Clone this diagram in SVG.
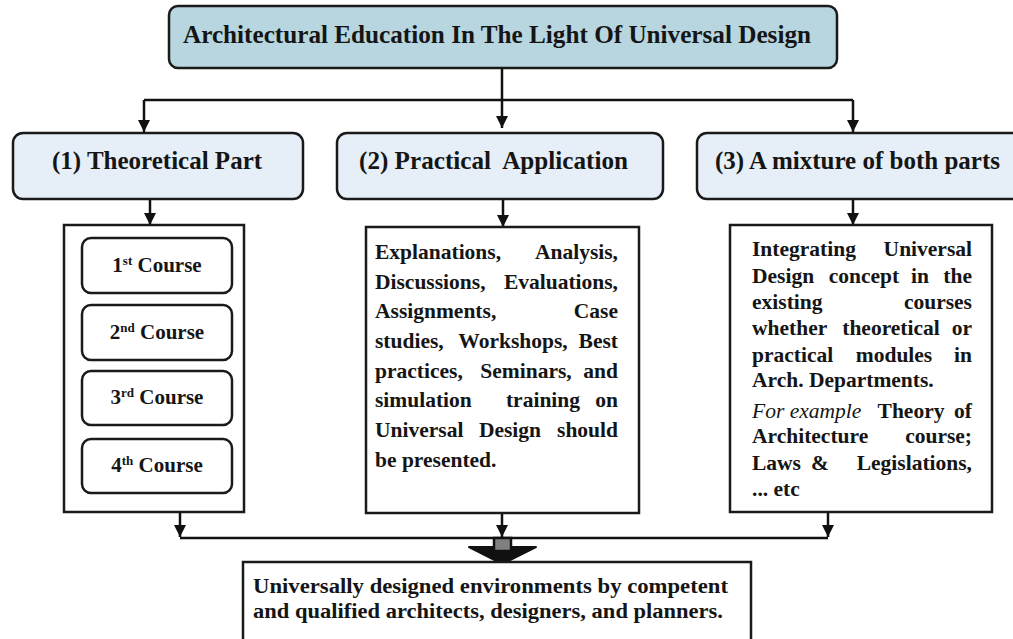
<svg xmlns="http://www.w3.org/2000/svg" width="1013" height="639" viewBox="0 0 1013 639">
<style>
  .t{font-family:'Liberation Serif','DejaVu Serif',serif;font-weight:700;fill:#151515}
  .it{font-style:italic;font-weight:400}
  .box{stroke:#1a1a1a;stroke-width:2.5}
  .con{fill:none;stroke:#111;stroke-width:2.5}
  .e{text-anchor:end}
  .m{text-anchor:middle}
</style>
<defs>
  <marker id="ah" viewBox="0 0 10 10" refX="10" refY="5" markerWidth="5" markerHeight="5" markerUnits="strokeWidth" orient="auto">
    <path d="M0,0 L10,5 L0,10 Z" fill="#111"/>
  </marker>
</defs>
<rect width="1013" height="639" fill="#fff"/>

<g id="connectors">
  <path class="con" d="M502,68 V128" marker-end="url(#ah)"/>
  <path class="con" d="M144,100 H853"/>
  <path class="con" d="M144,100 V132" marker-end="url(#ah)"/>
  <path class="con" d="M853,100 V132" marker-end="url(#ah)"/>
  <path class="con" d="M150,199 V225" marker-end="url(#ah)"/>
  <path class="con" d="M503,199 V227" marker-end="url(#ah)"/>
  <path class="con" d="M853,199 V225" marker-end="url(#ah)"/>
  <path class="con" d="M180,512 V537" marker-end="url(#ah)"/>
  <path class="con" d="M502,513 V537" marker-end="url(#ah)"/>
  <path class="con" d="M828,512 V537" marker-end="url(#ah)"/>
  <path class="con" d="M180,538 H828"/>
  <g id="block-arrow">
    <path d="M469,547 H536 L502.5,564 Z" fill="#111" stroke="#111" stroke-width="2" stroke-linejoin="round"/>
    <rect x="494" y="538" width="17" height="13" fill="#808080" stroke="#111" stroke-width="2.5"/>
  </g>
</g>

<g id="title">
  <rect class="box" x="169" y="6" width="668" height="62" rx="9" fill="#b7d6df"/>
  <text class="t" font-family="Liberation Serif" x="183" y="43" font-size="25" textLength="628" lengthAdjust="spacingAndGlyphs">Architectural Education In The Light Of Universal Design</text>
</g>

<g id="theoretical">
  <rect class="box" x="13" y="133" width="290" height="66" rx="10" fill="#e6eff7"/>
  <text class="t m" x="157" y="169" font-size="25">(1) Theoretical Part</text>
</g>

<g id="practical">
  <rect class="box" x="337" y="133" width="326" height="66" rx="10" fill="#e6eff7"/>
  <text class="t" x="359" y="169" font-size="25" xml:space="preserve" textLength="269" lengthAdjust="spacingAndGlyphs">(2) Practical  Application</text>
</g>

<g id="mixture">
  <rect class="box" x="697" y="133" width="340" height="66" rx="10" fill="#e6eff7"/>
  <text class="t" x="715" y="169" font-size="25">(3) A mixture of both parts</text>
</g>

<g id="courses">
  <rect class="box" x="64" y="225" width="180" height="287" fill="#fff"/>
  <g id="course1">
    <rect class="box" x="82" y="238" width="150" height="55" rx="9" fill="#fff"/>
    <text class="t m" x="157" y="272" font-size="21">1<tspan font-size="13" dy="-7">st</tspan><tspan dy="7"> Course</tspan></text>
  </g>
  <g id="course2">
    <rect class="box" x="82" y="305" width="150" height="55" rx="9" fill="#fff"/>
    <text class="t m" x="157" y="339" font-size="21">2<tspan font-size="13" dy="-7">nd</tspan><tspan dy="7"> Course</tspan></text>
  </g>
  <g id="course3">
    <rect class="box" x="82" y="371" width="150" height="54" rx="9" fill="#fff"/>
    <text class="t m" x="157" y="404" font-size="21">3<tspan font-size="13" dy="-7">rd</tspan><tspan dy="7"> Course</tspan></text>
  </g>
  <g id="course4">
    <rect class="box" x="82" y="439" width="150" height="54" rx="9" fill="#fff"/>
    <text class="t m" x="157" y="472" font-size="21">4<tspan font-size="13" dy="-7">th</tspan><tspan dy="7"> Course</tspan></text>
  </g>
</g>

<g id="practical-detail" font-size="21.5">
  <rect class="box" x="366" y="227" width="273" height="286" fill="#fff"/>
  <text class="t" x="375" y="259">Explanations,</text><text class="t e" x="618" y="259">Analysis,</text>
  <text class="t" x="375" y="289">Discussions,</text><text class="t e" x="618" y="289">Evaluations,</text>
  <text class="t" x="375" y="318">Assignments,</text><text class="t e" x="618" y="318">Case</text>
  <text class="t" x="375" y="348">studies,</text><text class="t m" x="513" y="348">Workshops,</text><text class="t e" x="618" y="348">Best</text>
  <text class="t" x="375" y="378">practices,</text><text class="t m" x="526" y="378">Seminars,</text><text class="t e" x="618" y="378">and</text>
  <text class="t" x="375" y="407">simulation</text><text class="t m" x="543" y="407">training</text><text class="t e" x="618" y="407">on</text>
  <text class="t" x="375" y="437">Universal</text><text class="t m" x="510" y="437">Design</text><text class="t e" x="618" y="437">should</text>
  <text class="t" x="375" y="467">be presented.</text>
</g>

<g id="mixture-detail" font-size="21.5">
  <rect class="box" x="730" y="225" width="262" height="287" fill="#fff"/>
  <text class="t" x="752" y="256">Integrating</text><text class="t e" x="972" y="256">Universal</text>
  <text class="t" x="752" y="283">Design</text><text class="t m" x="864" y="283">concept</text><text class="t m" x="920" y="283">in</text><text class="t e" x="972" y="283">the</text>
  <text class="t" x="752" y="309">existing</text><text class="t e" x="972" y="309">courses</text>
  <text class="t" x="752" y="335">whether</text><text class="t m" x="891" y="335">theoretical</text><text class="t e" x="972" y="335">or</text>
  <text class="t" x="752" y="362">practical</text><text class="t m" x="894" y="362">modules</text><text class="t e" x="972" y="362">in</text>
  <text class="t" x="752" y="387">Arch. Departments.</text>
  <text class="t it" x="752" y="418">For example</text><text class="t m" x="911" y="418">Theory</text><text class="t e" x="972" y="418">of</text>
  <text class="t" x="752" y="443">Architecture</text><text class="t e" x="972" y="443">course;</text>
  <text class="t" x="752" y="470">Laws</text><text class="t m" x="820" y="470">&amp;</text><text class="t e" x="972" y="470">Legislations,</text>
  <text class="t" x="752" y="496">... etc</text>
</g>

<g id="outcome">
  <rect class="box" x="243" y="562" width="508" height="90" fill="#fff"/>
  <text class="t" x="253" y="593" font-size="20" textLength="475" lengthAdjust="spacingAndGlyphs">Universally designed environments by competent</text>
  <text class="t" x="253" y="618" font-size="20" textLength="470" lengthAdjust="spacingAndGlyphs">and qualified architects, designers, and planners.</text>
</g>
</svg>
